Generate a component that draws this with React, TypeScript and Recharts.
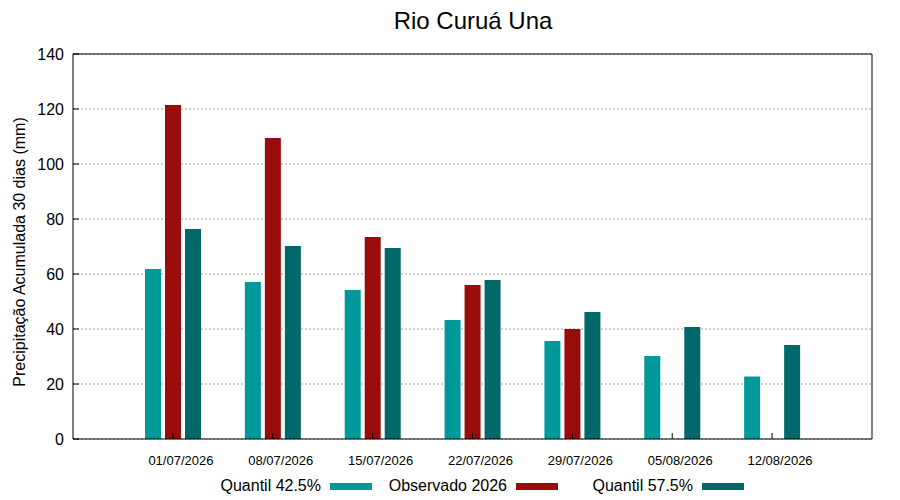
import { BarChart, Bar, XAxis, YAxis, CartesianGrid, Legend } from 'recharts'

const DATES = ['01/07/2026', '08/07/2026', '15/07/2026', '22/07/2026', '29/07/2026', '05/08/2026', '12/08/2026']
const QUANTIL_425 = [61.8, 57.1, 54.2, 43.3, 35.6, 30.2, 22.7]
const OBSERVADO = [121.5, 109.5, 73.5, 56.0, 40.0, null, null]
const QUANTIL_575 = [76.4, 70.2, 69.5, 57.8, 46.2, 40.7, 34.2]
const Y_TICKS = [0, 20, 40, 60, 80, 100, 120, 140]

const SERIES = [
  { key: 'q425', name: 'Quantil 42.5%', color: '#009999' },
  { key: 'obs', name: 'Observado 2026', color: '#990c0c' },
  { key: 'q575', name: 'Quantil 57.5%', color: '#006868' },
]

const data = DATES.map((date, i) => ({
  date,
  q425: QUANTIL_425[i],
  obs: OBSERVADO[i],
  q575: QUANTIL_575[i],
}))

const FONT = '"Liberation Sans", Arial, sans-serif'

function KeyBox() {
  // gnuplot-style key: fixed columns, text right-aligned before the sample
  return (
    <div style={{ position: 'relative', height: 28, width: 900, fontFamily: FONT, fontSize: 16, color: '#000' }}>
      {SERIES.map((s, i) => (
        <div
          key={s.key}
          style={{
            position: 'absolute',
            left: 186 + i * 186,
            width: 186,
            top: 0,
            height: 28,
            display: 'flex',
            alignItems: 'center',
            justifyContent: 'flex-end',
            gap: 9,
          }}
        >
          <span>{s.name}</span>
          <span style={{ display: 'inline-block', width: 42, height: 7, background: s.color }} />
        </div>
      ))}
    </div>
  )
}

function YLabel() {
  return (
    <text
      x={25}
      y={252}
      transform="rotate(-90 25 252)"
      textAnchor="middle"
      fontFamily={FONT}
      fontSize={16}
      fill="#000"
    >
      Precipitação Acumulada 30 dias (mm)
    </text>
  )
}

export default function App() {
  return (
    <div style={{ position: 'absolute', left: 0, top: 0, width: 900, height: 500, background: '#fff' }}>
      <div
        style={{
          position: 'absolute',
          left: 0,
          width: 946,
          top: 7,
          textAlign: 'center',
          fontFamily: FONT,
          fontSize: 24,
          color: '#000',
          lineHeight: '28px',
        }}
      >
        Rio Curuá Una
      </div>
      <BarChart
        width={900}
        height={500}
        data={data}
        margin={{ top: 53, right: 27, bottom: 0, left: 0 }}
        barSize={16}
        barGap={4}
      >
        <CartesianGrid vertical={false} stroke="#a0a0a0" strokeDasharray="2 2" />
        <XAxis
          dataKey="date"
          padding={{ left: 50, right: 50 }}
          height={33}
          tickSize={-6}
          tickMargin={23}
          stroke="#000"
          tick={{ fontFamily: FONT, fontSize: 13, fill: '#000', dx: 8 }}
          interval={0}
        />
        <XAxis
          xAxisId="top"
          orientation="top"
          dataKey="date"
          padding={{ left: 50, right: 50 }}
          height={1}
          tickSize={-6}
          tick={false}
          stroke="#000"
          interval={0}
        />
        <YAxis
          width={73}
          domain={[0, 140]}
          ticks={Y_TICKS}
          tickSize={-6}
          tickMargin={15}
          stroke="#000"
          tick={{ fontFamily: FONT, fontSize: 16, fill: '#000' }}
          label={<YLabel />}
        />
        <YAxis
          yAxisId="right"
          orientation="right"
          width={1}
          domain={[0, 140]}
          ticks={Y_TICKS}
          tickSize={-6}
          tick={false}
          stroke="#000"
        />
        <Legend verticalAlign="bottom" height={28} wrapperStyle={{ left: 0, width: 900 }} content={<KeyBox />} />
        {SERIES.map((s) => (
          <Bar key={s.key} dataKey={s.key} name={s.name} fill={s.color} isAnimationActive={false} />
        ))}
      </BarChart>
    </div>
  )
}
